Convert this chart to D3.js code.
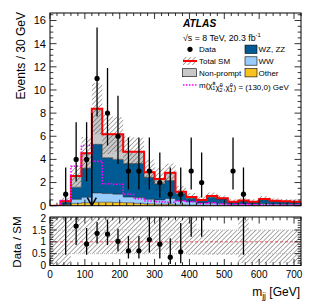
<!DOCTYPE html>
<html>
<head>
<meta charset="utf-8">
<script src="https://cdn.jsdelivr.net/npm/d3@7"></script>
<style>
  body { margin: 0; background: #fff; }
  svg { display: block; font-family: "Liberation Sans", Arial, Helvetica, sans-serif; }
</style>
</head>
<body>
<svg width="316" height="303"></svg>
<script>
// bins of 30 GeV, low edges
const binLow = [0, 30, 60, 90, 120, 150, 180, 210, 240, 270, 300, 330, 360, 390, 420, 450, 480, 510, 540, 570, 600, 630, 660, 690];
const binWidth = 30;

// SM backgrounds (events / bin), bottom to top of the stack
const other = [0, 0.03, 0.2, 0.26, 0.3, 0.3, 0.28, 0.25, 0.2, 0.15, 0.12, 0.12, 0.08, 0.05, 0.04, 0.04, 0.03, 0.02, 0.02, 0.02, 0.02, 0.02, 0.02, 0.02];
const ww = [0, 0.07, 0.35, 0.47, 0.8, 0.75, 0.72, 0.5, 0.5, 0.4, 0.38, 0.5, 0.35, 0.3, 0.2, 0.2, 0.15, 0.1, 0.12, 0.1, 0.15, 0.12, 0.1, 0.1];
const wzzz = [0, 0.2, 1.05, 2.5, 4.2, 3.1, 3.0, 2.9, 2.95, 1.9, 1.4, 1.55, 0.6, 0.3, 0.2, 0.5, 0.4, 0.2, 0.28, 0.2, 0.36, 0.26, 0.23, 0.2];
const nonPrompt = [0, 0.1, 0.97, 1.3, 3.07, 2.02, 2.17, 1.02, 1.02, 0.45, 0.4, 0.68, 0.17, 0.1, 0.06, 0.1, 0.06, 0.03, 0.03, 0.03, 0.05, 0.03, 0.03, 0.03];
// absolute SM uncertainty (hatched band, main panel)
const smErr = [0, 0.3, 0.9, 1.4, 2.2, 1.7, 1.5, 1.3, 1.2, 1.1, 1.0, 0.8, 0.5, 0.35, 0.3, 0.3, 0.25, 0.2, 0.2, 0.2, 0.25, 0.2, 0.2, 0.2];
// signal m(chi) = (130,0) GeV
const signal = [0, 0.45, 3.4, 5.2, 3.85, 1.9, 1.85, 1.0, 0.6, 0.4, 0.35, 0.3, 0.4, 0.35, 0.2, 0.25, 0.15, 0.1, 0.12, 0.08, 0.08, 0.05, 0.05, 0.05];

// data with error bar ends
const dataN  = [0, 1, 4, 4, 11, 8, 6, 3, 3, 3, 2, 1, 1, 3, 2, 0, 0, 3, 1, 0, 0, 0, 0, 0];
const dataLo = [0, 0.17, 2.1, 2.1, 7.7, 5.2, 3.6, 1.4, 1.4, 1.4, 0.7, 0.17, 0.17, 1.4, 0.7, 0, 0, 1.4, 0.17, 0, 0, 0, 0, 0];
const dataHi = [0, 3.3, 7.2, 7.2, 15.4, 11.9, 9.5, 5.9, 5.9, 5.9, 4.6, 3.3, 3.3, 5.9, 4.6, 0, 0, 5.9, 3.3, 0, 0, 0, 0, 0];

// ratio panel
const ratio   = [null, 2.5, 1.67, 0.91, 1.36, 1.33, 1.02, 0.62, 0.62, 1.1, 0.9, 0.35, 0.58, 4.0, 4.0, null, null, 8.6, 2.2, null, null, null, null, null];
const ratioLo = [null, 0.45, 0.87, 0.45, 0.93, 0.87, 0.6, 0.3, 0.3, 0.55, 0.3, 0.06, 0.1, 1.22, 1.22, null, null, 5.0, 0.45, null, null, null, null, null];
const ratioHi = [null, 4, 3, 1.58, 1.84, 1.93, 1.55, 1.25, 1.25, 2.2, 2.3, 1.15, 1.8, 8, 8, null, null, 12, 5, null, null, null, null, null];
const bandLo = [0, 0, 0.5, 0.5, 0.5, 0.5, 0.5, 0.5, 0.5, 0.5, 0.6, 0.65, 0.65, 0.45, 0.45, 0.45, 0.45, 0.45, 0.1, 0.1, 0.1, 0.1, 0.1, 0.1];
const bandHi = [2.1, 2.1, 2.1, 2.1, 2.1, 2.1, 2.1, 2.1, 2.1, 2.1, 2.1, 2.1, 2.1, 2.1, 1.5, 1.5, 1.5, 1.5, 2.1, 1.5, 1.5, 1.5, 1.5, 1.5];

// cut arrow
const arrowAt = 120, arrowFrom = 8;

const svg = d3.select("svg");
const W = +svg.attr("width"), H = +svg.attr("height");
svg.append("rect").attr("width", W).attr("height", H).attr("fill", "#fff");

const frame = { left: 50, right: 301, mainTop: 13, mainBottom: 205.7, ratioTop: 217, ratioBottom: 265.5 };
const x = d3.scaleLinear().domain([0, 720]).range([frame.left, frame.right]);
const y = d3.scaleLinear().domain([0, 16.65]).range([frame.mainBottom, frame.mainTop]);
const yr = d3.scaleLinear().domain([0, 2.05]).range([frame.ratioBottom, frame.ratioTop]);

const colors = { other: "#f9c31f", ww: "#99ccff", wz: "#005b94", np: "#c8c8c8" };

const defs = svg.append("defs");
defs.append("pattern").attr("id", "hatch").attr("patternUnits", "userSpaceOnUse")
  .attr("width", 3.3).attr("height", 3.3).attr("patternTransform", "rotate(45)")
  .append("line").attr("x1", 0).attr("y1", 0).attr("x2", 0).attr("y2", 3.3)
  .attr("stroke", "#2a2a2a").attr("stroke-width", 0.8);
defs.append("clipPath").attr("id", "clipMain").append("rect")
  .attr("x", frame.left).attr("y", frame.mainTop)
  .attr("width", frame.right - frame.left).attr("height", frame.mainBottom - frame.mainTop);
defs.append("clipPath").attr("id", "clipRatio").append("rect")
  .attr("x", frame.left).attr("y", frame.ratioTop)
  .attr("width", frame.right - frame.left).attr("height", frame.ratioBottom - frame.ratioTop);

// helper: append the closing edge so step curves cover the last bin
function steps(arr) {
  const pts = arr.map((d, i) => ({ x: binLow[i], ...d }));
  pts.push({ ...pts[pts.length - 1], x: binLow[binLow.length - 1] + binWidth });
  return pts;
}

// ---- main panel ----
const gMain = svg.append("g").attr("clip-path", "url(#clipMain)");

const rows = binLow.map((b, i) => ({ other: other[i], ww: ww[i], wz: wzzz[i], np: nonPrompt[i] }));
const stacked = d3.stack().keys(["other", "ww", "wz", "np"])(rows);
const total = rows.map(r => r.other + r.ww + r.wz + r.np);

const area = d3.area().curve(d3.curveStepAfter)
  .x(d => x(d.x)).y0(d => y(d.y0)).y1(d => y(d.y1));
const line = d3.line().curve(d3.curveStepAfter).x(d => x(d.x)).y(d => y(d.v));

stacked.forEach(s => {
  const pts = steps(s.map(d => ({ y0: d[0], y1: d[1] })));
  gMain.append("path").attr("d", area(pts)).attr("fill", colors[s.key]);
});
stacked.forEach(s => {
  const pts = steps(s.map(d => ({ v: d[1] })));
  gMain.append("path").attr("d", line(pts)).attr("fill", "none")
    .attr("stroke", "#1a1a1a").attr("stroke-width", 0.5);
});

// hatched uncertainty
gMain.append("path")
  .attr("d", area(steps(total.map((t, i) => ({ y0: Math.max(0, t - smErr[i]), y1: t + smErr[i] })))))
  .attr("fill", "url(#hatch)");

// total SM
gMain.append("path").attr("d", line(steps(total.map(t => ({ v: t })))))
  .attr("fill", "none").attr("stroke", "#ff0000").attr("stroke-width", 2);

// signal
gMain.append("path").attr("d", line(steps(signal.map(v => ({ v })))))
  .attr("fill", "none").attr("stroke", "#ff00ff").attr("stroke-width", 1.5)
  .attr("stroke-dasharray", "1.5,1.5");

// arrow
gMain.append("line").attr("x1", x(arrowAt)).attr("x2", x(arrowAt))
  .attr("y1", y(arrowFrom)).attr("y2", y(0))
  .attr("stroke", "#000").attr("stroke-width", 1.5);
gMain.append("path")
  .attr("d", `M${x(arrowAt) - 4.5},${y(0) - 8}L${x(arrowAt)},${y(0)}L${x(arrowAt) + 4.5},${y(0) - 8}`)
  .attr("fill", "none").attr("stroke", "#000").attr("stroke-width", 1.5);

// data
const dataPts = binLow.map((b, i) => ({ c: b + binWidth / 2, n: dataN[i], lo: dataLo[i], hi: dataHi[i] }))
  .filter(d => d.n > 0);
gMain.selectAll(".err").data(dataPts).enter().append("line")
  .attr("x1", d => x(d.c)).attr("x2", d => x(d.c))
  .attr("y1", d => y(d.lo)).attr("y2", d => y(d.hi))
  .attr("stroke", "#000").attr("stroke-width", 1.3);
gMain.selectAll(".pt").data(dataPts).enter().append("circle")
  .attr("cx", d => x(d.c)).attr("cy", d => y(d.n)).attr("r", 2.6).attr("fill", "#000");

// ---- ratio panel ----
const gRatio = svg.append("g").attr("clip-path", "url(#clipRatio)");
const areaR = d3.area().curve(d3.curveStepAfter)
  .x(d => x(d.x)).y0(d => yr(d.y0)).y1(d => yr(d.y1));
gRatio.append("path")
  .attr("d", areaR(steps(bandLo.map((l, i) => ({ y0: l, y1: bandHi[i] })))))
  .attr("fill", "url(#hatch)");
[0.5, 1.5].forEach(v => {
  gRatio.append("line").attr("x1", frame.left).attr("x2", frame.right)
    .attr("y1", yr(v)).attr("y2", yr(v))
    .attr("stroke", "#bbb").attr("stroke-width", 1).attr("stroke-dasharray", "1,1");
});
gRatio.append("line").attr("x1", frame.left).attr("x2", frame.right)
  .attr("y1", yr(1)).attr("y2", yr(1))
  .attr("stroke", "#e8303a").attr("stroke-width", 0.8).attr("stroke-dasharray", "3,2");

const ratioPts = binLow.map((b, i) => ({ c: b + binWidth / 2, r: ratio[i], lo: ratioLo[i], hi: ratioHi[i] }))
  .filter(d => d.r !== null);
gRatio.selectAll(".rerr").data(ratioPts).enter().append("line")
  .attr("x1", d => x(d.c)).attr("x2", d => x(d.c))
  .attr("y1", d => yr(d.lo)).attr("y2", d => yr(Math.min(d.hi, 3)))
  .attr("stroke", "#000").attr("stroke-width", 1.3);
gRatio.selectAll(".rpt").data(ratioPts.filter(d => d.r < 2.05)).enter().append("circle")
  .attr("cx", d => x(d.c)).attr("cy", d => yr(d.r)).attr("r", 2.6).attr("fill", "#000");

// ---- frames and ticks ----
function frameBox(top, bottom) {
  svg.append("rect").attr("x", frame.left).attr("y", top)
    .attr("width", frame.right - frame.left).attr("height", bottom - top)
    .attr("fill", "none").attr("stroke", "#000").attr("stroke-width", 1);
}
function xTicks(top, bottom, major, minor) {
  const g = svg.append("g").attr("stroke", "#000").attr("stroke-width", 0.8);
  d3.range(0, 721, 20).forEach(v => {
    const len = v % 100 === 0 ? major : minor;
    g.append("line").attr("x1", x(v)).attr("x2", x(v)).attr("y1", bottom).attr("y2", bottom - len);
    g.append("line").attr("x1", x(v)).attr("x2", x(v)).attr("y1", top).attr("y2", top + len);
  });
}
function yTicks(scale, vals, isMajor, major, minor) {
  const g = svg.append("g").attr("stroke", "#000").attr("stroke-width", 0.8);
  vals.forEach(v => {
    const len = isMajor(v) ? major : minor;
    g.append("line").attr("x1", frame.left).attr("x2", frame.left + len).attr("y1", scale(v)).attr("y2", scale(v));
    g.append("line").attr("x1", frame.right).attr("x2", frame.right - len).attr("y1", scale(v)).attr("y2", scale(v));
  });
}

xTicks(frame.mainTop, frame.mainBottom, 6, 3);
yTicks(y, d3.range(0, 16.6, 0.5), v => Math.abs(v % 2) < 1e-6, 6.5, 3.3);
frameBox(frame.mainTop, frame.mainBottom);

xTicks(frame.ratioTop, frame.ratioBottom, 6.5, 3.3);
yTicks(yr, d3.range(0, 2.05, 0.1).map(v => +v.toFixed(1)), v => Math.abs((v * 10) % 5) < 1e-6, 6.5, 3.3);
frameBox(frame.ratioTop, frame.ratioBottom);

// tick labels
svg.append("g").selectAll("text").data(d3.range(0, 17, 2)).enter().append("text")
  .attr("x", 46).attr("y", d => y(d) + 3.9).attr("text-anchor", "end")
  .attr("font-size", 11).text(d => d);
svg.append("g").selectAll("text").data([0, 0.5, 1, 1.5, 2]).enter().append("text")
  .attr("x", 46).attr("y", d => yr(d) + 3.5).attr("text-anchor", "end")
  .attr("font-size", 10).text(d => d);
svg.append("g").selectAll("text").data(d3.range(0, 701, 100)).enter().append("text")
  .attr("x", d => x(d)).attr("y", 277.5).attr("text-anchor", "middle")
  .attr("font-size", 10).text(d => d);

// axis titles
svg.append("text").attr("transform", `translate(24.5,${frame.mainTop - 1}) rotate(-90)`)
  .attr("text-anchor", "end").attr("font-size", 12).text("Events / 30 GeV");
svg.append("text").attr("transform", `translate(21,${frame.ratioTop - 0.5}) rotate(-90)`)
  .attr("text-anchor", "end").attr("font-size", 11.5).text("Data / SM");
const xt = svg.append("text").attr("x", frame.right - 1).attr("y", 296).attr("text-anchor", "end").attr("font-size", 12);
xt.append("tspan").text("m");
xt.append("tspan").attr("font-size", 8.5).attr("dy", 3).text("jj");
xt.append("tspan").attr("dy", -3).text(" [GeV]");

// ---- labels and legend ----
svg.append("text").attr("x", 183).attr("y", 26.5).attr("font-size", 10.2)
  .attr("font-weight", "bold").attr("font-style", "italic").text("ATLAS");
const en = svg.append("text").attr("x", 183).attr("y", 40.5).attr("font-size", 8.8);
en.append("tspan").text("\u221As = 8 TeV, 20.3 fb");
en.append("tspan").attr("font-size", 6).attr("dy", -3.5).text("-1");

const legRows = [49.3, 61, 72.7, 85];
const legFont = 8;
const lg = svg.append("g");
// Data
lg.append("circle").attr("cx", 190).attr("cy", legRows[0]).attr("r", 2.6).attr("fill", "#000");
lg.append("text").attr("x", 199).attr("y", legRows[0] + 2.9).attr("font-size", legFont).text("Data");
// Total SM
lg.append("rect").attr("x", 183).attr("y", legRows[1] - 4).attr("width", 14).attr("height", 8).attr("fill", "url(#hatch)");
lg.append("line").attr("x1", 183).attr("x2", 197).attr("y1", legRows[1]).attr("y2", legRows[1])
  .attr("stroke", "#ff0000").attr("stroke-width", 2);
lg.append("text").attr("x", 199).attr("y", legRows[1] + 2.9).attr("font-size", legFont).text("Total SM");
// Non-prompt
lg.append("rect").attr("x", 182.5).attr("y", legRows[2] - 4).attr("width", 14).attr("height", 8)
  .attr("fill", colors.np).attr("stroke", "#000").attr("stroke-width", 0.6);
lg.append("text").attr("x", 199).attr("y", legRows[2] + 2.9).attr("font-size", legFont).text("Non-prompt");
// signal
lg.append("line").attr("x1", 183).attr("x2", 197).attr("y1", legRows[3]).attr("y2", legRows[3])
  .attr("stroke", "#ff00ff").attr("stroke-width", 1.5).attr("stroke-dasharray", "1.5,1.5");
const sig = lg.append("text").attr("x", 199).attr("y", legRows[3] + 2.9).attr("font-size", legFont);
function chi(t, sup, sub, last) {
  t.append("tspan").text("\u03C7\u0303");
  t.append("tspan").attr("font-size", 5.5).attr("dy", -3).text(sup);
  t.append("tspan").attr("font-size", 5.5).attr("dx", -3.2).attr("dy", 5).text(sub);
  t.append("tspan").attr("dx", 0.8).attr("dy", -2).text(last);
}
sig.append("tspan").text("m(");
chi(sig, "\u00B1", "1", "");
chi(sig, "0", "2", ",");
chi(sig, "0", "1", ") = (130,0) GeV");

// right column boxes
[["WZ, ZZ", colors.wz], ["WW", colors.ww], ["Other", colors.other]].forEach(([label, c], i) => {
  lg.append("rect").attr("x", 245).attr("y", legRows[i] - 4.2).attr("width", 12).attr("height", 8.4)
    .attr("fill", c).attr("stroke", "#000").attr("stroke-width", 0.6);
  lg.append("text").attr("x", 258.5).attr("y", legRows[i] + 2.9).attr("font-size", legFont).text(label);
});
</script>
</body>
</html>
